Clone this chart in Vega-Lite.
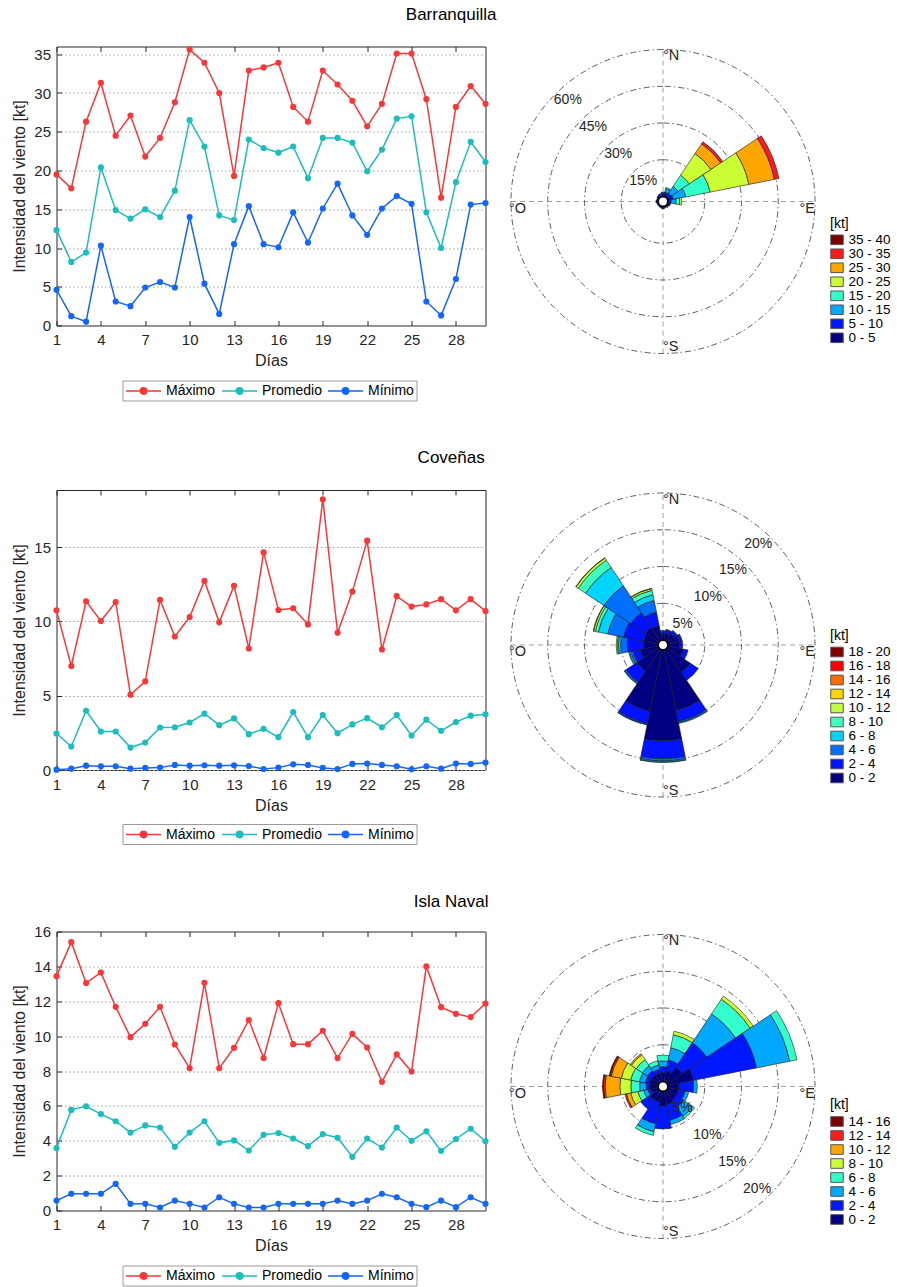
{
"$schema":"https://vega.github.io/schema/vega-lite/v6.json",
"padding":{"left":10.5,"top":5.5,"right":2,"bottom":0},
"config":{"font":"Liberation Sans","view":{"stroke":null},"title":{"fontWeight":"normal","fontSize":17,"color":"#000"},
 "axis":{"labelFontSize":15,"labelColor":"#262626","titleFontSize":16,"titleFontWeight":"normal","titleColor":"#262626","tickColor":"#262626","domain":false,"tickSize":-5,"gridColor":"#a0a0a0","gridDash":[1.5,2.5]},
 "legend":{"labelFontSize":14,"labelColor":"#000","titleFontSize":14,"titleFontWeight":"normal","titleColor":"#000"}},
"datasets":{
"lines":[
{"s":"B","d":1,"Máximo":19.5,"Promedio":12.3,"Mínimo":4.6},{"s":"B","d":2,"Máximo":17.7,"Promedio":8.2,"Mínimo":1.2},{"s":"B","d":3,"Máximo":26.3,"Promedio":9.4,"Mínimo":0.5},{"s":"B","d":4,"Máximo":31.3,"Promedio":20.4,"Mínimo":10.3},{"s":"B","d":5,"Máximo":24.5,"Promedio":14.9,"Mínimo":3.1},{"s":"B","d":6,"Máximo":27.1,"Promedio":13.8,"Mínimo":2.5},{"s":"B","d":7,"Máximo":21.8,"Promedio":15.0,"Mínimo":4.9},{"s":"B","d":8,"Máximo":24.2,"Promedio":14.0,"Mínimo":5.6},{"s":"B","d":9,"Máximo":28.8,"Promedio":17.4,"Mínimo":4.9},{"s":"B","d":10,"Máximo":35.6,"Promedio":26.5,"Mínimo":14.0},
{"s":"B","d":11,"Máximo":33.9,"Promedio":23.1,"Mínimo":5.4},{"s":"B","d":12,"Máximo":30.0,"Promedio":14.2,"Mínimo":1.5},{"s":"B","d":13,"Máximo":19.3,"Promedio":13.6,"Mínimo":10.5},{"s":"B","d":14,"Máximo":32.9,"Promedio":24.0,"Mínimo":15.4},{"s":"B","d":15,"Máximo":33.3,"Promedio":22.9,"Mínimo":10.5},{"s":"B","d":16,"Máximo":33.9,"Promedio":22.3,"Mínimo":10.1},{"s":"B","d":17,"Máximo":28.2,"Promedio":23.1,"Mínimo":14.6},{"s":"B","d":18,"Máximo":26.3,"Promedio":19.0,"Mínimo":10.7},{"s":"B","d":19,"Máximo":32.9,"Promedio":24.2,"Mínimo":15.1},{"s":"B","d":20,"Máximo":31.1,"Promedio":24.2,"Mínimo":18.3},
{"s":"B","d":21,"Máximo":29.0,"Promedio":23.6,"Mínimo":14.2},{"s":"B","d":22,"Máximo":25.7,"Promedio":19.9,"Mínimo":11.7},{"s":"B","d":23,"Máximo":28.6,"Promedio":22.7,"Mínimo":15.1},{"s":"B","d":24,"Máximo":35.1,"Promedio":26.7,"Mínimo":16.7},{"s":"B","d":25,"Máximo":35.1,"Promedio":27.0,"Mínimo":15.7},{"s":"B","d":26,"Máximo":29.2,"Promedio":14.6,"Mínimo":3.1},{"s":"B","d":27,"Máximo":16.5,"Promedio":10.0,"Mínimo":1.3},{"s":"B","d":28,"Máximo":28.2,"Promedio":18.5,"Mínimo":6.0},{"s":"B","d":29,"Máximo":30.9,"Promedio":23.7,"Mínimo":15.6},{"s":"B","d":30,"Máximo":28.6,"Promedio":21.1,"Mínimo":15.8},
{"s":"C","d":1,"Máximo":10.75,"Promedio":2.46,"Mínimo":0.02},{"s":"C","d":2,"Máximo":7.0,"Promedio":1.58,"Mínimo":0.09},{"s":"C","d":3,"Máximo":11.36,"Promedio":3.99,"Mínimo":0.29},{"s":"C","d":4,"Máximo":10.03,"Promedio":2.59,"Mínimo":0.25},{"s":"C","d":5,"Máximo":11.31,"Promedio":2.59,"Mínimo":0.25},{"s":"C","d":6,"Máximo":5.07,"Promedio":1.51,"Mínimo":0.09},{"s":"C","d":7,"Máximo":5.97,"Promedio":1.85,"Mínimo":0.14},{"s":"C","d":8,"Máximo":11.45,"Promedio":2.86,"Mínimo":0.16},{"s":"C","d":9,"Máximo":8.99,"Promedio":2.88,"Mínimo":0.34},{"s":"C","d":10,"Máximo":10.3,"Promedio":3.2,"Mínimo":0.29},
{"s":"C","d":11,"Máximo":12.73,"Promedio":3.79,"Mínimo":0.32},{"s":"C","d":12,"Máximo":9.94,"Promedio":3.02,"Mínimo":0.29},{"s":"C","d":13,"Máximo":12.4,"Promedio":3.47,"Mínimo":0.32},{"s":"C","d":14,"Máximo":8.18,"Promedio":2.41,"Mínimo":0.27},{"s":"C","d":15,"Máximo":14.65,"Promedio":2.77,"Mínimo":0.07},{"s":"C","d":16,"Máximo":10.77,"Promedio":2.21,"Mínimo":0.16},{"s":"C","d":17,"Máximo":10.89,"Promedio":3.9,"Mínimo":0.38},{"s":"C","d":18,"Máximo":9.8,"Promedio":2.21,"Mínimo":0.34},{"s":"C","d":19,"Máximo":18.23,"Promedio":3.7,"Mínimo":0.14},{"s":"C","d":20,"Máximo":9.24,"Promedio":2.48,"Mínimo":0.07},
{"s":"C","d":21,"Máximo":12.01,"Promedio":3.07,"Mínimo":0.41},{"s":"C","d":22,"Máximo":15.44,"Promedio":3.49,"Mínimo":0.43},{"s":"C","d":23,"Máximo":8.11,"Promedio":2.88,"Mínimo":0.34},{"s":"C","d":24,"Máximo":11.7,"Promedio":3.7,"Mínimo":0.25},{"s":"C","d":25,"Máximo":11.0,"Promedio":2.32,"Mínimo":0.05},{"s":"C","d":26,"Máximo":11.15,"Promedio":3.39,"Mínimo":0.25},{"s":"C","d":27,"Máximo":11.5,"Promedio":2.64,"Mínimo":0.09},{"s":"C","d":28,"Máximo":10.75,"Promedio":3.23,"Mínimo":0.43},{"s":"C","d":29,"Máximo":11.5,"Promedio":3.66,"Mínimo":0.41},{"s":"C","d":30,"Máximo":10.7,"Promedio":3.75,"Mínimo":0.5},
{"s":"I","d":1,"Máximo":13.44,"Promedio":3.58,"Mínimo":0.57},{"s":"I","d":2,"Máximo":15.39,"Promedio":5.77,"Mínimo":0.96},{"s":"I","d":3,"Máximo":13.04,"Promedio":5.98,"Mínimo":0.96},{"s":"I","d":4,"Máximo":13.65,"Promedio":5.53,"Mínimo":0.96},{"s":"I","d":5,"Máximo":11.68,"Promedio":5.12,"Mínimo":1.53},{"s":"I","d":6,"Máximo":9.94,"Promedio":4.47,"Mínimo":0.38},{"s":"I","d":7,"Máximo":10.71,"Promedio":4.88,"Mínimo":0.38},{"s":"I","d":8,"Máximo":11.68,"Promedio":4.76,"Mínimo":0.17},{"s":"I","d":9,"Máximo":9.52,"Promedio":3.65,"Mínimo":0.57},{"s":"I","d":10,"Máximo":8.16,"Promedio":4.47,"Mínimo":0.38},
{"s":"I","d":11,"Máximo":13.06,"Promedio":5.12,"Mínimo":0.17},{"s":"I","d":12,"Máximo":8.16,"Promedio":3.88,"Mínimo":0.76},{"s":"I","d":13,"Máximo":9.33,"Promedio":4.02,"Mínimo":0.38},{"s":"I","d":14,"Máximo":10.92,"Promedio":3.44,"Mínimo":0.17},{"s":"I","d":15,"Máximo":8.74,"Promedio":4.34,"Mínimo":0.17},{"s":"I","d":16,"Máximo":11.89,"Promedio":4.44,"Mínimo":0.38},{"s":"I","d":17,"Máximo":9.54,"Promedio":4.13,"Mínimo":0.38},{"s":"I","d":18,"Máximo":9.54,"Promedio":3.69,"Mínimo":0.38},{"s":"I","d":19,"Máximo":10.31,"Promedio":4.38,"Mínimo":0.38},{"s":"I","d":20,"Máximo":8.74,"Promedio":4.17,"Mínimo":0.57},
{"s":"I","d":21,"Máximo":10.13,"Promedio":3.08,"Mínimo":0.38},{"s":"I","d":22,"Máximo":9.35,"Promedio":4.13,"Mínimo":0.57},{"s":"I","d":23,"Máximo":7.38,"Promedio":3.61,"Mínimo":0.96},{"s":"I","d":24,"Máximo":8.95,"Promedio":4.76,"Mínimo":0.76},{"s":"I","d":25,"Máximo":7.97,"Promedio":4.0,"Mínimo":0.38},{"s":"I","d":26,"Máximo":14.0,"Promedio":4.54,"Mínimo":0.19},{"s":"I","d":27,"Máximo":11.66,"Promedio":3.42,"Mínimo":0.57},{"s":"I","d":28,"Máximo":11.28,"Promedio":4.1,"Mínimo":0.19},{"s":"I","d":29,"Máximo":11.09,"Promedio":4.69,"Mínimo":0.76},{"s":"I","d":30,"Máximo":11.87,"Promedio":3.97,"Mínimo":0.38}
],
"rose":[
{"s":"B","d":0,"lo":0,"b":"0 - 5","p":0.8},{"s":"B","d":0,"lo":5,"b":"5 - 10","p":0.7},{"s":"B","d":0,"lo":10,"b":"10 - 15","p":0.3},
{"s":"B","d":22.5,"lo":0,"b":"0 - 5","p":0.8},{"s":"B","d":22.5,"lo":5,"b":"5 - 10","p":1.0},{"s":"B","d":22.5,"lo":10,"b":"10 - 15","p":1.5},{"s":"B","d":22.5,"lo":15,"b":"15 - 20","p":0.5},
{"s":"B","d":45,"lo":0,"b":"0 - 5","p":0.8},{"s":"B","d":45,"lo":5,"b":"5 - 10","p":1.2},{"s":"B","d":45,"lo":10,"b":"10 - 15","p":3.4},{"s":"B","d":45,"lo":15,"b":"15 - 20","p":5.5},{"s":"B","d":45,"lo":20,"b":"20 - 25","p":10.6},{"s":"B","d":45,"lo":25,"b":"25 - 30","p":4.8},{"s":"B","d":45,"lo":30,"b":"30 - 35","p":1.0},
{"s":"B","d":67.5,"lo":0,"b":"0 - 5","p":0.6},{"s":"B","d":67.5,"lo":5,"b":"5 - 10","p":1.7},{"s":"B","d":67.5,"lo":10,"b":"10 - 15","p":5.2},{"s":"B","d":67.5,"lo":15,"b":"15 - 20","p":10.1},{"s":"B","d":67.5,"lo":20,"b":"20 - 25","p":16.1},{"s":"B","d":67.5,"lo":25,"b":"25 - 30","p":10.6},{"s":"B","d":67.5,"lo":30,"b":"30 - 35","p":1.9},
{"s":"B","d":90,"lo":0,"b":"0 - 5","p":0.5},{"s":"B","d":90,"lo":5,"b":"5 - 10","p":0.8},{"s":"B","d":90,"lo":10,"b":"10 - 15","p":2.0},{"s":"B","d":90,"lo":15,"b":"15 - 20","p":1.5},{"s":"B","d":90,"lo":20,"b":"20 - 25","p":0.8},
{"s":"B","d":112.5,"lo":0,"b":"0 - 5","p":0.7},{"s":"B","d":112.5,"lo":5,"b":"5 - 10","p":0.5},
{"s":"B","d":135,"lo":0,"b":"0 - 5","p":0.6},{"s":"B","d":135,"lo":5,"b":"5 - 10","p":0.3},
{"s":"B","d":157.5,"lo":0,"b":"0 - 5","p":0.6},
{"s":"B","d":180,"lo":0,"b":"0 - 5","p":0.7},{"s":"B","d":180,"lo":5,"b":"5 - 10","p":0.3},
{"s":"B","d":202.5,"lo":0,"b":"0 - 5","p":0.6},
{"s":"B","d":225,"lo":0,"b":"0 - 5","p":0.5},
{"s":"B","d":247.5,"lo":0,"b":"0 - 5","p":0.5},
{"s":"B","d":270,"lo":0,"b":"0 - 5","p":0.6},{"s":"B","d":270,"lo":5,"b":"5 - 10","p":0.2},
{"s":"B","d":292.5,"lo":0,"b":"0 - 5","p":0.6},
{"s":"B","d":315,"lo":0,"b":"0 - 5","p":0.7},{"s":"B","d":315,"lo":5,"b":"5 - 10","p":0.3},
{"s":"B","d":337.5,"lo":0,"b":"0 - 5","p":0.8},{"s":"B","d":337.5,"lo":5,"b":"5 - 10","p":0.5},
{"s":"C","d":0,"lo":0,"b":"0 - 2","p":0.8},{"s":"C","d":0,"lo":2,"b":"2 - 4","p":0.3},{"s":"C","d":0,"lo":4,"b":"4 - 6","p":0.1},{"s":"C","d":0,"lo":6,"b":"6 - 8","p":0.1},
{"s":"C","d":22.5,"lo":0,"b":"0 - 2","p":1.0},{"s":"C","d":22.5,"lo":2,"b":"2 - 4","p":0.4},{"s":"C","d":22.5,"lo":4,"b":"4 - 6","p":0.1},
{"s":"C","d":45,"lo":0,"b":"0 - 2","p":1.2},{"s":"C","d":45,"lo":2,"b":"2 - 4","p":0.4},{"s":"C","d":45,"lo":4,"b":"4 - 6","p":0.1},
{"s":"C","d":67.5,"lo":0,"b":"0 - 2","p":1.5},{"s":"C","d":67.5,"lo":2,"b":"2 - 4","p":0.4},{"s":"C","d":67.5,"lo":4,"b":"4 - 6","p":0.1},
{"s":"C","d":90,"lo":0,"b":"0 - 2","p":1.6},{"s":"C","d":90,"lo":2,"b":"2 - 4","p":0.4},
{"s":"C","d":112.5,"lo":0,"b":"0 - 2","p":2.2},{"s":"C","d":112.5,"lo":2,"b":"2 - 4","p":0.6},
{"s":"C","d":135,"lo":0,"b":"0 - 2","p":3.8},{"s":"C","d":135,"lo":2,"b":"2 - 4","p":1.3},
{"s":"C","d":157.5,"lo":0,"b":"0 - 2","p":8.4},{"s":"C","d":157.5,"lo":2,"b":"2 - 4","p":1.5},{"s":"C","d":157.5,"lo":4,"b":"4 - 6","p":0.2},{"s":"C","d":157.5,"lo":6,"b":"6 - 8","p":0.1},
{"s":"C","d":180,"lo":0,"b":"0 - 2","p":12.35},{"s":"C","d":180,"lo":2,"b":"2 - 4","p":2.45},{"s":"C","d":180,"lo":4,"b":"4 - 6","p":0.3},{"s":"C","d":180,"lo":6,"b":"6 - 8","p":0.15},{"s":"C","d":180,"lo":8,"b":"8 - 10","p":0.05},
{"s":"C","d":202.5,"lo":0,"b":"0 - 2","p":8.5},{"s":"C","d":202.5,"lo":2,"b":"2 - 4","p":1.7},{"s":"C","d":202.5,"lo":4,"b":"4 - 6","p":0.15},{"s":"C","d":202.5,"lo":6,"b":"6 - 8","p":0.05},
{"s":"C","d":225,"lo":0,"b":"0 - 2","p":3.6},{"s":"C","d":225,"lo":2,"b":"2 - 4","p":1.8},{"s":"C","d":225,"lo":4,"b":"4 - 6","p":0.2},{"s":"C","d":225,"lo":6,"b":"6 - 8","p":0.1},
{"s":"C","d":247.5,"lo":0,"b":"0 - 2","p":2.5},{"s":"C","d":247.5,"lo":2,"b":"2 - 4","p":1.0},{"s":"C","d":247.5,"lo":4,"b":"4 - 6","p":0.3},{"s":"C","d":247.5,"lo":6,"b":"6 - 8","p":0.2},{"s":"C","d":247.5,"lo":8,"b":"8 - 10","p":0.1},
{"s":"C","d":270,"lo":0,"b":"0 - 2","p":2.0},{"s":"C","d":270,"lo":2,"b":"2 - 4","p":2.2},{"s":"C","d":270,"lo":4,"b":"4 - 6","p":0.9},{"s":"C","d":270,"lo":6,"b":"6 - 8","p":0.3},{"s":"C","d":270,"lo":8,"b":"8 - 10","p":0.15},{"s":"C","d":270,"lo":10,"b":"10 - 12","p":0.15},
{"s":"C","d":292.5,"lo":0,"b":"0 - 2","p":2.0},{"s":"C","d":292.5,"lo":2,"b":"2 - 4","p":2.8},{"s":"C","d":292.5,"lo":4,"b":"4 - 6","p":2.2},{"s":"C","d":292.5,"lo":6,"b":"6 - 8","p":1.3},{"s":"C","d":292.5,"lo":8,"b":"8 - 10","p":0.4},{"s":"C","d":292.5,"lo":10,"b":"10 - 12","p":0.25},{"s":"C","d":292.5,"lo":12,"b":"12 - 14","p":0.05},
{"s":"C","d":315,"lo":0,"b":"0 - 2","p":2.2},{"s":"C","d":315,"lo":2,"b":"2 - 4","p":2.4},{"s":"C","d":315,"lo":4,"b":"4 - 6","p":4.4},{"s":"C","d":315,"lo":6,"b":"6 - 8","p":3.0},{"s":"C","d":315,"lo":8,"b":"8 - 10","p":1.2},{"s":"C","d":315,"lo":10,"b":"10 - 12","p":0.35},{"s":"C","d":315,"lo":12,"b":"12 - 14","p":0.05},
{"s":"C","d":337.5,"lo":0,"b":"0 - 2","p":2.0},{"s":"C","d":337.5,"lo":2,"b":"2 - 4","p":1.9},{"s":"C","d":337.5,"lo":4,"b":"4 - 6","p":1.6},{"s":"C","d":337.5,"lo":6,"b":"6 - 8","p":0.8},{"s":"C","d":337.5,"lo":8,"b":"8 - 10","p":0.6},{"s":"C","d":337.5,"lo":10,"b":"10 - 12","p":0.25},{"s":"C","d":337.5,"lo":12,"b":"12 - 14","p":0.05},
{"s":"I","d":0,"lo":0,"b":"0 - 2","p":1.2},{"s":"I","d":0,"lo":2,"b":"2 - 4","p":0.8},{"s":"I","d":0,"lo":4,"b":"4 - 6","p":0.8},{"s":"I","d":0,"lo":6,"b":"6 - 8","p":0.8},
{"s":"I","d":22.5,"lo":0,"b":"0 - 2","p":1.5},{"s":"I","d":22.5,"lo":2,"b":"2 - 4","p":1.5},{"s":"I","d":22.5,"lo":4,"b":"4 - 6","p":1.7},{"s":"I","d":22.5,"lo":6,"b":"6 - 8","p":1.8},{"s":"I","d":22.5,"lo":8,"b":"8 - 10","p":0.5},
{"s":"I","d":45,"lo":0,"b":"0 - 2","p":2.5},{"s":"I","d":45,"lo":2,"b":"2 - 4","p":4.0},{"s":"I","d":45,"lo":4,"b":"4 - 6","p":4.7},{"s":"I","d":45,"lo":6,"b":"6 - 8","p":2.4},{"s":"I","d":45,"lo":8,"b":"8 - 10","p":0.5},
{"s":"I","d":67.5,"lo":0,"b":"0 - 2","p":3.6},{"s":"I","d":67.5,"lo":2,"b":"2 - 4","p":8.7},{"s":"I","d":67.5,"lo":4,"b":"4 - 6","p":4.6},{"s":"I","d":67.5,"lo":6,"b":"6 - 8","p":1.0},
{"s":"I","d":90,"lo":0,"b":"0 - 2","p":1.5},{"s":"I","d":90,"lo":2,"b":"2 - 4","p":2.0},{"s":"I","d":90,"lo":4,"b":"4 - 6","p":0.5},
{"s":"I","d":112.5,"lo":0,"b":"0 - 2","p":1.5},{"s":"I","d":112.5,"lo":2,"b":"2 - 4","p":0.9},{"s":"I","d":112.5,"lo":4,"b":"4 - 6","p":0.5},
{"s":"I","d":135,"lo":0,"b":"0 - 2","p":1.5},{"s":"I","d":135,"lo":2,"b":"2 - 4","p":1.2},{"s":"I","d":135,"lo":4,"b":"4 - 6","p":1.5},{"s":"I","d":135,"lo":6,"b":"6 - 8","p":0.3},
{"s":"I","d":157.5,"lo":0,"b":"0 - 2","p":1.8},{"s":"I","d":157.5,"lo":2,"b":"2 - 4","p":2.2},{"s":"I","d":157.5,"lo":4,"b":"4 - 6","p":0.6},
{"s":"I","d":180,"lo":0,"b":"0 - 2","p":2.0},{"s":"I","d":180,"lo":2,"b":"2 - 4","p":3.1},
{"s":"I","d":202.5,"lo":0,"b":"0 - 2","p":1.5},{"s":"I","d":202.5,"lo":2,"b":"2 - 4","p":3.0},{"s":"I","d":202.5,"lo":4,"b":"4 - 6","p":1.1},{"s":"I","d":202.5,"lo":6,"b":"6 - 8","p":0.5},
{"s":"I","d":225,"lo":0,"b":"0 - 2","p":1.5},{"s":"I","d":225,"lo":2,"b":"2 - 4","p":1.5},
{"s":"I","d":247.5,"lo":0,"b":"0 - 2","p":1.0},{"s":"I","d":247.5,"lo":2,"b":"2 - 4","p":0.4},{"s":"I","d":247.5,"lo":4,"b":"4 - 6","p":0.6},{"s":"I","d":247.5,"lo":6,"b":"6 - 8","p":0.8},{"s":"I","d":247.5,"lo":8,"b":"8 - 10","p":1.0},{"s":"I","d":247.5,"lo":10,"b":"10 - 12","p":0.6},{"s":"I","d":247.5,"lo":12,"b":"12 - 14","p":0.2},
{"s":"I","d":270,"lo":0,"b":"0 - 2","p":1.2},{"s":"I","d":270,"lo":2,"b":"2 - 4","p":0.4},{"s":"I","d":270,"lo":4,"b":"4 - 6","p":0.9},{"s":"I","d":270,"lo":6,"b":"6 - 8","p":1.2},{"s":"I","d":270,"lo":8,"b":"8 - 10","p":1.5},{"s":"I","d":270,"lo":10,"b":"10 - 12","p":2.0},{"s":"I","d":270,"lo":12,"b":"12 - 14","p":0.25},{"s":"I","d":270,"lo":14,"b":"14 - 16","p":0.1},
{"s":"I","d":292.5,"lo":0,"b":"0 - 2","p":1.2},{"s":"I","d":292.5,"lo":2,"b":"2 - 4","p":0.6},{"s":"I","d":292.5,"lo":4,"b":"4 - 6","p":0.8},{"s":"I","d":292.5,"lo":6,"b":"6 - 8","p":1.2},{"s":"I","d":292.5,"lo":8,"b":"8 - 10","p":1.3},{"s":"I","d":292.5,"lo":10,"b":"10 - 12","p":1.4},{"s":"I","d":292.5,"lo":12,"b":"12 - 14","p":0.2},{"s":"I","d":292.5,"lo":14,"b":"14 - 16","p":0.1},
{"s":"I","d":315,"lo":0,"b":"0 - 2","p":1.2},{"s":"I","d":315,"lo":2,"b":"2 - 4","p":0.7},{"s":"I","d":315,"lo":4,"b":"4 - 6","p":0.8},{"s":"I","d":315,"lo":6,"b":"6 - 8","p":1.0},{"s":"I","d":315,"lo":8,"b":"8 - 10","p":0.8},{"s":"I","d":315,"lo":10,"b":"10 - 12","p":0.2},
{"s":"I","d":337.5,"lo":0,"b":"0 - 2","p":1.2},{"s":"I","d":337.5,"lo":2,"b":"2 - 4","p":0.5},{"s":"I","d":337.5,"lo":4,"b":"4 - 6","p":0.6},{"s":"I","d":337.5,"lo":6,"b":"6 - 8","p":0.6}
]
},
"vconcat":[
{"title":{"text":"Barranquilla","anchor":"middle","offset":21.7},
 "spacing":18.5,
 "resolve":{"scale":{"color":"independent","x":"independent","y":"independent"},"legend":{"color":"independent"}},
 "hconcat":[
 {"width":429,"height":279,"view":{"stroke":"#262626"},
  "data":{"name":"lines"},
  "transform":[{"filter":"datum.s==='B'"},{"fold":["Máximo","Promedio","Mínimo"],"as":["serie","v"]}],
  "layer":[
   {"mark":{"type":"line","strokeWidth":1.5},
    "encoding":{
     "x":{"field":"d","type":"quantitative","scale":{"domain":[1,30],"nice":false,"zero":false},"axis":{"values":[1,4,7,10,13,16,19,22,25,28],"title":"Días","grid":false,"labelPadding":12,"labelFlush":false,"titlePadding":5}},
     "y":{"field":"v","type":"quantitative","scale":{"domain":[0,36],"nice":false},"axis":{"values":[0,5,10,15,20,25,30,35],"title":"Intensidad del viento [kt]","grid":true,"labelPadding":11,"titlePadding":6}},
     "color":{"field":"serie","type":"nominal","scale":{"domain":["Máximo","Promedio","Mínimo"],"range":["#F83838","#1CBDBD","#1466FA"]},
      "legend":{"orient":"none","legendX":66,"legendY":334,"direction":"horizontal","gridAlign":"none","title":null,"strokeColor":"#9a9a9a","fillColor":"#fff","padding":2.5,"symbolType":"M-1,0L4,0M1.957,0A0.457,0.457,0,1,1,1.043,0A0.457,0.457,0,1,1,1.957,0Z","symbolSize":196,"symbolStrokeWidth":1.5,"labelOffset":25,"columnPadding":3,
       "encode":{"symbols":{"update":{"fill":{"signal":"datum.value==='Máximo'?'#F83838':datum.value==='Promedio'?'#1CBDBD':'#1466FA'"},"stroke":{"signal":"datum.value==='Máximo'?'#F83838':datum.value==='Promedio'?'#1CBDBD':'#1466FA'"},"opacity":{"value":1}}}}}}}},
   {"mark":{"type":"circle","size":38,"opacity":1},
    "encoding":{
     "x":{"field":"d","type":"quantitative","scale":{"domain":[1,30],"nice":false,"zero":false},"axis":{"orient":"top","values":[1,4,7,10,13,16,19,22,25,28],"labels":false,"title":null,"grid":false}},
     "y":{"field":"v","type":"quantitative","scale":{"domain":[0,36],"nice":false},"axis":{"values":[0,5,10,15,20,25,30,35],"title":"Intensidad del viento [kt]","grid":true,"labelPadding":11,"titlePadding":6}},
     "color":{"field":"serie","type":"nominal","scale":{"domain":["Máximo","Promedio","Mínimo"],"range":["#F83838","#1CBDBD","#1466FA"]},"legend":null}}}
  ],
  "resolve":{"axis":{"x":"independent"}}
 },
 {"width":310,"height":310,
  "layer":[
   {"data":{"values":[{}]},"mark":{"type":"rule","color":"#a0a0a0","strokeDash":[5,4],"strokeWidth":1},
    "encoding":{"x":{"datum":0,"type":"quantitative","scale":{"domain":[-1.0197,1.0197],"nice":false,"zero":false},"axis":null},"y":{"datum":-1,"type":"quantitative","scale":{"domain":[-1.0197,1.0197],"nice":false,"zero":false},"axis":null},"y2":{"datum":1}}},
   {"data":{"values":[{}]},"mark":{"type":"rule","color":"#a0a0a0","strokeDash":[5,4],"strokeWidth":1},
    "encoding":{"y":{"datum":0,"type":"quantitative","scale":{"domain":[-1.0197,1.0197],"nice":false,"zero":false},"axis":null},"x":{"datum":-1,"type":"quantitative","scale":{"domain":[-1.0197,1.0197],"nice":false,"zero":false},"axis":null},"x2":{"datum":1}}},
   {"data":{"values":[{"ring":15},{"ring":30},{"ring":45},{"ring":60}]},"mark":{"type":"arc","fillOpacity":0,"stroke":"#4d4d4d","strokeWidth":0.9,"strokeDash":[6,3,1.5,3]},
    "encoding":{"radius":{"field":"ring","type":"quantitative","stack":null,"scale":{"type":"linear","domain":[0,60],"range":[5,152],"zero":false,"nice":false}}}},
   {"data":{"name":"rose"},"transform":[{"filter":"datum.s==='B'"},{"stack":"p","groupby":["d"],"sort":[{"field":"lo"}],"as":["r0","r1"]}],
    "mark":{"type":"arc","stroke":"#1a1a1a","strokeWidth":0.6},
    "encoding":{
     "theta":{"field":"d","type":"ordinal","scale":{"type":"band","domain":[0,22.5,45,67.5,90,112.5,135,157.5,180,202.5,225,247.5,270,292.5,315,337.5],"range":[-0.19635,6.08684],"paddingInner":0,"paddingOuter":0}},
     "radius":{"field":"r1","type":"quantitative","stack":null,"scale":{"type":"linear","domain":[0,60],"range":[5,152],"zero":false,"nice":false}},
     "radius2":{"field":"r0"},
     "color":{"field":"b","type":"nominal","scale":{"domain":["35 - 40","30 - 35","25 - 30","20 - 25","15 - 20","10 - 15","5 - 10","0 - 5"],"range":["#800000","#FF1A1A","#FFA500","#CCFF33","#33FFCC","#00A8FF","#0018FF","#000080"]},
      "legend":{"orient":"none","legendX":322,"legendY":170.8,"title":"[kt]","titlePadding":1.5,"symbolType":"M-1,-0.77H1V0.77H-1Z","symbolSize":156,"symbolStrokeColor":"#555","symbolStrokeWidth":1,"labelFontSize":13.5,"labelOffset":4.5,"rowPadding":0,"padding":0}}}},
   {"data":{"values":[{}]},"mark":{"type":"point","shape":"circle","filled":true,"fill":"#fff","stroke":"#000","strokeWidth":1.6,"size":90,"opacity":1},
    "encoding":{"x":{"datum":0,"type":"quantitative","scale":{"domain":[-1.0197,1.0197],"nice":false,"zero":false},"axis":null},"y":{"datum":0,"type":"quantitative","scale":{"domain":[-1.0197,1.0197],"nice":false,"zero":false},"axis":null}}},
   {"data":{"values":[{"ring":15,"lab":"15%"},{"ring":30,"lab":"30%"},{"ring":45,"lab":"45%"},{"ring":60,"lab":"60%"}]},
    "mark":{"type":"text","theta":5.529,"radiusOffset":-13,"fontSize":14,"color":"#262626"},
    "encoding":{"radius":{"field":"ring","type":"quantitative","stack":null,"scale":{"type":"linear","domain":[0,60],"range":[5,152],"zero":false,"nice":false}},"text":{"field":"lab"}}},
   {"data":{"values":[{}]},"mark":{"type":"text","text":"°N","align":"left","baseline":"top","fontSize":14.5,"color":"#262626"},
    "encoding":{"x":{"datum":0,"type":"quantitative","scale":{"domain":[-1.0197,1.0197],"nice":false,"zero":false},"axis":null},"y":{"datum":1,"type":"quantitative","scale":{"domain":[-1.0197,1.0197],"nice":false,"zero":false},"axis":null}}},
   {"data":{"values":[{}]},"mark":{"type":"text","text":"°S","align":"left","baseline":"alphabetic","dy":-2.5,"fontSize":14.5,"color":"#262626"},
    "encoding":{"x":{"datum":0,"type":"quantitative","scale":{"domain":[-1.0197,1.0197],"nice":false,"zero":false},"axis":null},"y":{"datum":-1,"type":"quantitative","scale":{"domain":[-1.0197,1.0197],"nice":false,"zero":false},"axis":null}}},
   {"data":{"values":[{}]},"mark":{"type":"text","text":"°E","align":"right","baseline":"top","fontSize":14.5,"color":"#262626"},
    "encoding":{"x":{"datum":1,"type":"quantitative","scale":{"domain":[-1.0197,1.0197],"nice":false,"zero":false},"axis":null},"y":{"datum":0,"type":"quantitative","scale":{"domain":[-1.0197,1.0197],"nice":false,"zero":false},"axis":null}}},
   {"data":{"values":[{}]},"mark":{"type":"text","text":"°O","align":"left","baseline":"top","dx":-2,"fontSize":14.5,"color":"#262626"},
    "encoding":{"x":{"datum":-1,"type":"quantitative","scale":{"domain":[-1.0197,1.0197],"nice":false,"zero":false},"axis":null},"y":{"datum":0,"type":"quantitative","scale":{"domain":[-1.0197,1.0197],"nice":false,"zero":false},"axis":null}}}
  ]
 }
 ]
},
{"title":{"text":"Coveñas","anchor":"middle","offset":22},
 "spacing":18.5,
 "resolve":{"scale":{"color":"independent","x":"independent","y":"independent"},"legend":{"color":"independent"}},
 "hconcat":[
 {"width":429,"height":280,"view":{"stroke":"#262626"},
  "data":{"name":"lines"},
  "transform":[{"filter":"datum.s==='C'"},{"fold":["Máximo","Promedio","Mínimo"],"as":["serie","v"]}],
  "layer":[
   {"mark":{"type":"line","strokeWidth":1.5},
    "encoding":{
     "x":{"field":"d","type":"quantitative","scale":{"domain":[1,30],"nice":false,"zero":false},"axis":{"values":[1,4,7,10,13,16,19,22,25,28],"title":"Días","grid":false,"labelPadding":12,"labelFlush":false,"titlePadding":5}},
     "y":{"field":"v","type":"quantitative","scale":{"domain":[0,18.85],"nice":false},"axis":{"values":[0,5,10,15],"title":"Intensidad del viento [kt]","grid":true,"labelPadding":11,"titlePadding":6}},
     "color":{"field":"serie","type":"nominal","scale":{"domain":["Máximo","Promedio","Mínimo"],"range":["#F83838","#1CBDBD","#1466FA"]},
      "legend":{"orient":"none","legendX":66,"legendY":334,"direction":"horizontal","gridAlign":"none","title":null,"strokeColor":"#9a9a9a","fillColor":"#fff","padding":2.5,"symbolType":"M-1,0L4,0M1.957,0A0.457,0.457,0,1,1,1.043,0A0.457,0.457,0,1,1,1.957,0Z","symbolSize":196,"symbolStrokeWidth":1.5,"labelOffset":25,"columnPadding":3,
       "encode":{"symbols":{"update":{"fill":{"signal":"datum.value==='Máximo'?'#F83838':datum.value==='Promedio'?'#1CBDBD':'#1466FA'"},"stroke":{"signal":"datum.value==='Máximo'?'#F83838':datum.value==='Promedio'?'#1CBDBD':'#1466FA'"},"opacity":{"value":1}}}}}}}},
   {"mark":{"type":"circle","size":38,"opacity":1},
    "encoding":{
     "x":{"field":"d","type":"quantitative","scale":{"domain":[1,30],"nice":false,"zero":false},"axis":{"orient":"top","values":[1,4,7,10,13,16,19,22,25,28],"labels":false,"title":null,"grid":false}},
     "y":{"field":"v","type":"quantitative","scale":{"domain":[0,18.85],"nice":false},"axis":{"values":[0,5,10,15],"title":"Intensidad del viento [kt]","grid":true,"labelPadding":11,"titlePadding":6}},
     "color":{"field":"serie","type":"nominal","scale":{"domain":["Máximo","Promedio","Mínimo"],"range":["#F83838","#1CBDBD","#1466FA"]},"legend":null}}}
  ],
  "resolve":{"axis":{"x":"independent"}}
 },
 {"width":310,"height":310,
  "layer":[
   {"data":{"values":[{}]},"mark":{"type":"rule","color":"#a0a0a0","strokeDash":[5,4],"strokeWidth":1},
    "encoding":{"x":{"datum":0,"type":"quantitative","scale":{"domain":[-1.0197,1.0197],"nice":false,"zero":false},"axis":null},"y":{"datum":-1,"type":"quantitative","scale":{"domain":[-1.0197,1.0197],"nice":false,"zero":false},"axis":null},"y2":{"datum":1}}},
   {"data":{"values":[{}]},"mark":{"type":"rule","color":"#a0a0a0","strokeDash":[5,4],"strokeWidth":1},
    "encoding":{"y":{"datum":0,"type":"quantitative","scale":{"domain":[-1.0197,1.0197],"nice":false,"zero":false},"axis":null},"x":{"datum":-1,"type":"quantitative","scale":{"domain":[-1.0197,1.0197],"nice":false,"zero":false},"axis":null},"x2":{"datum":1}}},
   {"data":{"values":[{"ring":5},{"ring":10},{"ring":15},{"ring":20}]},"mark":{"type":"arc","fillOpacity":0,"stroke":"#4d4d4d","strokeWidth":0.9,"strokeDash":[6,3,1.5,3]},
    "encoding":{"radius":{"field":"ring","type":"quantitative","stack":null,"scale":{"type":"linear","domain":[0,20],"range":[5,152],"zero":false,"nice":false}}}},
   {"data":{"name":"rose"},"transform":[{"filter":"datum.s==='C'"},{"stack":"p","groupby":["d"],"sort":[{"field":"lo"}],"as":["r0","r1"]}],
    "mark":{"type":"arc","stroke":"#1a1a1a","strokeWidth":0.6},
    "encoding":{
     "theta":{"field":"d","type":"ordinal","scale":{"type":"band","domain":[0,22.5,45,67.5,90,112.5,135,157.5,180,202.5,225,247.5,270,292.5,315,337.5],"range":[-0.19635,6.08684],"paddingInner":0,"paddingOuter":0}},
     "radius":{"field":"r1","type":"quantitative","stack":null,"scale":{"type":"linear","domain":[0,20],"range":[5,152],"zero":false,"nice":false}},
     "radius2":{"field":"r0"},
     "color":{"field":"b","type":"nominal","scale":{"domain":["18 - 20","16 - 18","14 - 16","12 - 14","10 - 12","8 - 10","6 - 8","4 - 6","2 - 4","0 - 2"],"range":["#800000","#FF0000","#FF6A00","#FFD500","#BFFF40","#40FFBF","#00D5FF","#0070FF","#0012FF","#000080"]},
      "legend":{"orient":"none","legendX":322,"legendY":139,"title":"[kt]","titlePadding":2,"symbolType":"M-1,-0.77H1V0.77H-1Z","symbolSize":156,"symbolStrokeColor":"#555","symbolStrokeWidth":1,"labelFontSize":13.5,"labelOffset":4.5,"rowPadding":0,"padding":0}}}},
   {"data":{"values":[{}]},"mark":{"type":"point","shape":"circle","filled":true,"fill":"#fff","stroke":"#000","strokeWidth":1.6,"size":90,"opacity":1},
    "encoding":{"x":{"datum":0,"type":"quantitative","scale":{"domain":[-1.0197,1.0197],"nice":false,"zero":false},"axis":null},"y":{"datum":0,"type":"quantitative","scale":{"domain":[-1.0197,1.0197],"nice":false,"zero":false},"axis":null}}},
   {"data":{"values":[{"ring":5,"lab":"5%"},{"ring":10,"lab":"10%"},{"ring":15,"lab":"15%"},{"ring":20,"lab":"20%"}]},
    "mark":{"type":"text","theta":0.754,"radiusOffset":-13,"fontSize":14,"color":"#262626"},
    "encoding":{"radius":{"field":"ring","type":"quantitative","stack":null,"scale":{"type":"linear","domain":[0,20],"range":[5,152],"zero":false,"nice":false}},"text":{"field":"lab"}}},
   {"data":{"values":[{}]},"mark":{"type":"text","text":"°N","align":"left","baseline":"top","fontSize":14.5,"color":"#262626"},
    "encoding":{"x":{"datum":0,"type":"quantitative","scale":{"domain":[-1.0197,1.0197],"nice":false,"zero":false},"axis":null},"y":{"datum":1,"type":"quantitative","scale":{"domain":[-1.0197,1.0197],"nice":false,"zero":false},"axis":null}}},
   {"data":{"values":[{}]},"mark":{"type":"text","text":"°S","align":"left","baseline":"alphabetic","dy":-2.5,"fontSize":14.5,"color":"#262626"},
    "encoding":{"x":{"datum":0,"type":"quantitative","scale":{"domain":[-1.0197,1.0197],"nice":false,"zero":false},"axis":null},"y":{"datum":-1,"type":"quantitative","scale":{"domain":[-1.0197,1.0197],"nice":false,"zero":false},"axis":null}}},
   {"data":{"values":[{}]},"mark":{"type":"text","text":"°E","align":"right","baseline":"top","fontSize":14.5,"color":"#262626"},
    "encoding":{"x":{"datum":1,"type":"quantitative","scale":{"domain":[-1.0197,1.0197],"nice":false,"zero":false},"axis":null},"y":{"datum":0,"type":"quantitative","scale":{"domain":[-1.0197,1.0197],"nice":false,"zero":false},"axis":null}}},
   {"data":{"values":[{}]},"mark":{"type":"text","text":"°O","align":"left","baseline":"top","dx":-2,"fontSize":14.5,"color":"#262626"},
    "encoding":{"x":{"datum":-1,"type":"quantitative","scale":{"domain":[-1.0197,1.0197],"nice":false,"zero":false},"axis":null},"y":{"datum":0,"type":"quantitative","scale":{"domain":[-1.0197,1.0197],"nice":false,"zero":false},"axis":null}}}
  ]
 }
 ]
},
{"title":{"text":"Isla Naval","anchor":"middle","offset":13.2},
 "spacing":18.5,
 "resolve":{"scale":{"color":"independent","x":"independent","y":"independent"},"legend":{"color":"independent"}},
 "hconcat":[
 {"width":429,"height":279,"view":{"stroke":"#262626"},
  "data":{"name":"lines"},
  "transform":[{"filter":"datum.s==='I'"},{"fold":["Máximo","Promedio","Mínimo"],"as":["serie","v"]}],
  "layer":[
   {"mark":{"type":"line","strokeWidth":1.5},
    "encoding":{
     "x":{"field":"d","type":"quantitative","scale":{"domain":[1,30],"nice":false,"zero":false},"axis":{"values":[1,4,7,10,13,16,19,22,25,28],"title":"Días","grid":false,"labelPadding":12,"labelFlush":false,"titlePadding":5}},
     "y":{"field":"v","type":"quantitative","scale":{"domain":[0,16],"nice":false},"axis":{"values":[0,2,4,6,8,10,12,14,16],"title":"Intensidad del viento [kt]","grid":true,"labelPadding":11,"titlePadding":6}},
     "color":{"field":"serie","type":"nominal","scale":{"domain":["Máximo","Promedio","Mínimo"],"range":["#F83838","#1CBDBD","#1466FA"]},
      "legend":{"orient":"none","legendX":66,"legendY":334,"direction":"horizontal","gridAlign":"none","title":null,"strokeColor":"#9a9a9a","fillColor":"#fff","padding":2.5,"symbolType":"M-1,0L4,0M1.957,0A0.457,0.457,0,1,1,1.043,0A0.457,0.457,0,1,1,1.957,0Z","symbolSize":196,"symbolStrokeWidth":1.5,"labelOffset":25,"columnPadding":3,
       "encode":{"symbols":{"update":{"fill":{"signal":"datum.value==='Máximo'?'#F83838':datum.value==='Promedio'?'#1CBDBD':'#1466FA'"},"stroke":{"signal":"datum.value==='Máximo'?'#F83838':datum.value==='Promedio'?'#1CBDBD':'#1466FA'"},"opacity":{"value":1}}}}}}}},
   {"mark":{"type":"circle","size":38,"opacity":1},
    "encoding":{
     "x":{"field":"d","type":"quantitative","scale":{"domain":[1,30],"nice":false,"zero":false},"axis":{"orient":"top","values":[1,4,7,10,13,16,19,22,25,28],"labels":false,"title":null,"grid":false}},
     "y":{"field":"v","type":"quantitative","scale":{"domain":[0,16],"nice":false},"axis":{"values":[0,2,4,6,8,10,12,14,16],"title":"Intensidad del viento [kt]","grid":true,"labelPadding":11,"titlePadding":6}},
     "color":{"field":"serie","type":"nominal","scale":{"domain":["Máximo","Promedio","Mínimo"],"range":["#F83838","#1CBDBD","#1466FA"]},"legend":null}}}
  ],
  "resolve":{"axis":{"x":"independent"}}
 },
 {"width":310,"height":310,
  "layer":[
   {"data":{"values":[{}]},"mark":{"type":"rule","color":"#a0a0a0","strokeDash":[5,4],"strokeWidth":1},
    "encoding":{"x":{"datum":0,"type":"quantitative","scale":{"domain":[-1.0197,1.0197],"nice":false,"zero":false},"axis":null},"y":{"datum":-1,"type":"quantitative","scale":{"domain":[-1.0197,1.0197],"nice":false,"zero":false},"axis":null},"y2":{"datum":1}}},
   {"data":{"values":[{}]},"mark":{"type":"rule","color":"#a0a0a0","strokeDash":[5,4],"strokeWidth":1},
    "encoding":{"y":{"datum":0,"type":"quantitative","scale":{"domain":[-1.0197,1.0197],"nice":false,"zero":false},"axis":null},"x":{"datum":-1,"type":"quantitative","scale":{"domain":[-1.0197,1.0197],"nice":false,"zero":false},"axis":null},"x2":{"datum":1}}},
   {"data":{"values":[{"ring":5},{"ring":10},{"ring":15},{"ring":20}]},"mark":{"type":"arc","fillOpacity":0,"stroke":"#4d4d4d","strokeWidth":0.9,"strokeDash":[6,3,1.5,3]},
    "encoding":{"radius":{"field":"ring","type":"quantitative","stack":null,"scale":{"type":"linear","domain":[0,20],"range":[5,152],"zero":false,"nice":false}}}},
   {"data":{"name":"rose"},"transform":[{"filter":"datum.s==='I'"},{"stack":"p","groupby":["d"],"sort":[{"field":"lo"}],"as":["r0","r1"]}],
    "mark":{"type":"arc","stroke":"#1a1a1a","strokeWidth":0.6},
    "encoding":{
     "theta":{"field":"d","type":"ordinal","scale":{"type":"band","domain":[0,22.5,45,67.5,90,112.5,135,157.5,180,202.5,225,247.5,270,292.5,315,337.5],"range":[-0.19635,6.08684],"paddingInner":0,"paddingOuter":0}},
     "radius":{"field":"r1","type":"quantitative","stack":null,"scale":{"type":"linear","domain":[0,20],"range":[5,152],"zero":false,"nice":false}},
     "radius2":{"field":"r0"},
     "color":{"field":"b","type":"nominal","scale":{"domain":["14 - 16","12 - 14","10 - 12","8 - 10","6 - 8","4 - 6","2 - 4","0 - 2"],"range":["#800000","#FF1A1A","#FFA500","#CCFF33","#33FFCC","#00A8FF","#0018FF","#000080"]},
      "legend":{"orient":"none","legendX":322,"legendY":166.5,"title":"[kt]","titlePadding":2.5,"symbolType":"M-1,-0.77H1V0.77H-1Z","symbolSize":156,"symbolStrokeColor":"#555","symbolStrokeWidth":1,"labelFontSize":13.5,"labelOffset":4.5,"rowPadding":0,"padding":0}}}},
   {"data":{"values":[{}]},"mark":{"type":"point","shape":"circle","filled":true,"fill":"#fff","stroke":"#000","strokeWidth":1.6,"size":90,"opacity":1},
    "encoding":{"x":{"datum":0,"type":"quantitative","scale":{"domain":[-1.0197,1.0197],"nice":false,"zero":false},"axis":null},"y":{"datum":0,"type":"quantitative","scale":{"domain":[-1.0197,1.0197],"nice":false,"zero":false},"axis":null}}},
   {"data":{"values":[{"ring":5,"lab":"5%"},{"ring":10,"lab":"10%"},{"ring":15,"lab":"15%"},{"ring":20,"lab":"20%"}]},
    "mark":{"type":"text","theta":2.398,"radiusOffset":-13,"fontSize":14,"color":"#262626"},
    "encoding":{"radius":{"field":"ring","type":"quantitative","stack":null,"scale":{"type":"linear","domain":[0,20],"range":[5,152],"zero":false,"nice":false}},"text":{"field":"lab"}}},
   {"data":{"values":[{}]},"mark":{"type":"text","text":"°N","align":"left","baseline":"top","fontSize":14.5,"color":"#262626"},
    "encoding":{"x":{"datum":0,"type":"quantitative","scale":{"domain":[-1.0197,1.0197],"nice":false,"zero":false},"axis":null},"y":{"datum":1,"type":"quantitative","scale":{"domain":[-1.0197,1.0197],"nice":false,"zero":false},"axis":null}}},
   {"data":{"values":[{}]},"mark":{"type":"text","text":"°S","align":"left","baseline":"alphabetic","dy":-2.5,"fontSize":14.5,"color":"#262626"},
    "encoding":{"x":{"datum":0,"type":"quantitative","scale":{"domain":[-1.0197,1.0197],"nice":false,"zero":false},"axis":null},"y":{"datum":-1,"type":"quantitative","scale":{"domain":[-1.0197,1.0197],"nice":false,"zero":false},"axis":null}}},
   {"data":{"values":[{}]},"mark":{"type":"text","text":"°E","align":"right","baseline":"top","fontSize":14.5,"color":"#262626"},
    "encoding":{"x":{"datum":1,"type":"quantitative","scale":{"domain":[-1.0197,1.0197],"nice":false,"zero":false},"axis":null},"y":{"datum":0,"type":"quantitative","scale":{"domain":[-1.0197,1.0197],"nice":false,"zero":false},"axis":null}}},
   {"data":{"values":[{}]},"mark":{"type":"text","text":"°O","align":"left","baseline":"top","dx":-2,"fontSize":14.5,"color":"#262626"},
    "encoding":{"x":{"datum":-1,"type":"quantitative","scale":{"domain":[-1.0197,1.0197],"nice":false,"zero":false},"axis":null},"y":{"datum":0,"type":"quantitative","scale":{"domain":[-1.0197,1.0197],"nice":false,"zero":false},"axis":null}}}
  ]
 }
 ]
}
],
"spacing":47.5,
"resolve":{"scale":{"color":"independent","x":"independent","y":"independent"},"legend":{"color":"independent"}}
}
